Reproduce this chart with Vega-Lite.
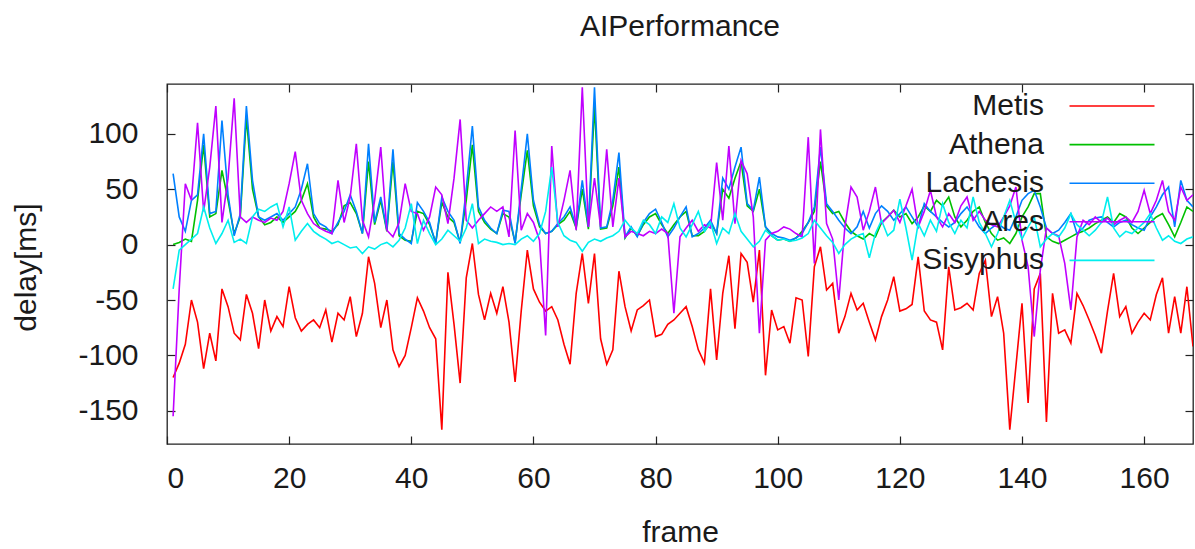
{
"$schema": "https://vega.github.io/schema/vega-lite/v6.json",
"width": 1026,
"height": 360,
"autosize": "none",
"padding": {"left": 167, "top": 84, "right": 2, "bottom": 105},
"background": "white",
"title": {"text": "AIPerformance", "fontSize": 30, "fontWeight": "normal", "font": "Liberation Sans", "color": "#1a1a1a", "baseline": "alphabetic", "offset": 17, "anchor": "middle"},
"config": {
  "view": {"stroke": "#222222", "strokeWidth": 1.3},
  "font": "Liberation Sans",
  "axis": {"grid": false, "domain": false, "tickSize": -8, "tickColor": "#222222", "tickWidth": 1.2, "labelFontSize": 30, "labelColor": "#1a1a1a", "titleFontSize": 30, "titleFontWeight": "normal", "titleColor": "#1a1a1a", "labelFont": "Liberation Sans", "titleFont": "Liberation Sans"}
},
"data": {"values": [
{"f":1,"Metis":-120,"Athena":0,"Lachesis":64,"Ares":-155,"Sisyphus":-40},
{"f":2,"Metis":-107,"Athena":2,"Lachesis":25,"Ares":-40,"Sisyphus":-5},
{"f":3,"Metis":-90,"Athena":5,"Lachesis":12,"Ares":55,"Sisyphus":0},
{"f":4,"Metis":-50,"Athena":3,"Lachesis":40,"Ares":40,"Sisyphus":5},
{"f":5,"Metis":-70,"Athena":40,"Lachesis":45,"Ares":110,"Sisyphus":10},
{"f":6,"Metis":-112,"Athena":90,"Lachesis":100,"Ares":30,"Sisyphus":34},
{"f":7,"Metis":-80,"Athena":25,"Lachesis":28,"Ares":70,"Sisyphus":15},
{"f":8,"Metis":-105,"Athena":28,"Lachesis":30,"Ares":125,"Sisyphus":1},
{"f":9,"Metis":-40,"Athena":67,"Lachesis":112,"Ares":20,"Sisyphus":10},
{"f":10,"Metis":-56,"Athena":40,"Lachesis":45,"Ares":60,"Sisyphus":22},
{"f":11,"Metis":-80,"Athena":10,"Lachesis":8,"Ares":132,"Sisyphus":2},
{"f":12,"Metis":-86,"Athena":25,"Lachesis":28,"Ares":25,"Sisyphus":5},
{"f":13,"Metis":-45,"Athena":115,"Lachesis":125,"Ares":20,"Sisyphus":1},
{"f":14,"Metis":-62,"Athena":50,"Lachesis":58,"Ares":25,"Sisyphus":25},
{"f":15,"Metis":-94,"Athena":25,"Lachesis":25,"Ares":22,"Sisyphus":32},
{"f":16,"Metis":-50,"Athena":18,"Lachesis":22,"Ares":20,"Sisyphus":30},
{"f":17,"Metis":-78,"Athena":20,"Lachesis":25,"Ares":24,"Sisyphus":34},
{"f":18,"Metis":-65,"Athena":25,"Lachesis":28,"Ares":22,"Sisyphus":37},
{"f":19,"Metis":-74,"Athena":20,"Lachesis":22,"Ares":30,"Sisyphus":16},
{"f":20,"Metis":-38,"Athena":25,"Lachesis":28,"Ares":55,"Sisyphus":34},
{"f":21,"Metis":-66,"Athena":30,"Lachesis":34,"Ares":84,"Sisyphus":4},
{"f":22,"Metis":-78,"Athena":40,"Lachesis":50,"Ares":40,"Sisyphus":12},
{"f":23,"Metis":-72,"Athena":55,"Lachesis":73,"Ares":28,"Sisyphus":19},
{"f":24,"Metis":-68,"Athena":25,"Lachesis":28,"Ares":19,"Sisyphus":12},
{"f":25,"Metis":-75,"Athena":15,"Lachesis":19,"Ares":15,"Sisyphus":8},
{"f":26,"Metis":-59,"Athena":14,"Lachesis":16,"Ares":12,"Sisyphus":5},
{"f":27,"Metis":-88,"Athena":12,"Lachesis":10,"Ares":10,"Sisyphus":1},
{"f":28,"Metis":-62,"Athena":18,"Lachesis":20,"Ares":58,"Sisyphus":3},
{"f":29,"Metis":-68,"Athena":35,"Lachesis":30,"Ares":20,"Sisyphus":0},
{"f":30,"Metis":-47,"Athena":38,"Lachesis":45,"Ares":43,"Sisyphus":-3},
{"f":31,"Metis":-83,"Athena":28,"Lachesis":30,"Ares":91,"Sisyphus":-2},
{"f":32,"Metis":-62,"Athena":10,"Lachesis":10,"Ares":22,"Sisyphus":-8},
{"f":33,"Metis":-11,"Athena":75,"Lachesis":91,"Ares":7,"Sisyphus":-2},
{"f":34,"Metis":-35,"Athena":18,"Lachesis":20,"Ares":40,"Sisyphus":-4},
{"f":35,"Metis":-75,"Athena":40,"Lachesis":43,"Ares":88,"Sisyphus":0},
{"f":36,"Metis":-50,"Athena":12,"Lachesis":13,"Ares":13,"Sisyphus":2},
{"f":37,"Metis":-95,"Athena":75,"Lachesis":86,"Ares":7,"Sisyphus":-2},
{"f":38,"Metis":-110,"Athena":8,"Lachesis":10,"Ares":20,"Sisyphus":4},
{"f":39,"Metis":-100,"Athena":4,"Lachesis":5,"Ares":55,"Sisyphus":15},
{"f":40,"Metis":-75,"Athena":3,"Lachesis":1,"Ares":30,"Sisyphus":37},
{"f":41,"Metis":-48,"Athena":30,"Lachesis":38,"Ares":28,"Sisyphus":1},
{"f":42,"Metis":-60,"Athena":28,"Lachesis":30,"Ares":13,"Sisyphus":22},
{"f":43,"Metis":-75,"Athena":18,"Lachesis":20,"Ares":25,"Sisyphus":10},
{"f":44,"Metis":-85,"Athena":2,"Lachesis":1,"Ares":52,"Sisyphus":0},
{"f":45,"Metis":-167,"Athena":38,"Lachesis":43,"Ares":45,"Sisyphus":5},
{"f":46,"Metis":-25,"Athena":25,"Lachesis":30,"Ares":19,"Sisyphus":13},
{"f":47,"Metis":-72,"Athena":20,"Lachesis":22,"Ares":60,"Sisyphus":8},
{"f":48,"Metis":-125,"Athena":2,"Lachesis":1,"Ares":113,"Sisyphus":3},
{"f":49,"Metis":-30,"Athena":40,"Lachesis":50,"Ares":22,"Sisyphus":15},
{"f":50,"Metis":1,"Athena":90,"Lachesis":107,"Ares":15,"Sisyphus":37},
{"f":51,"Metis":-45,"Athena":30,"Lachesis":34,"Ares":22,"Sisyphus":1},
{"f":52,"Metis":-68,"Athena":20,"Lachesis":22,"Ares":28,"Sisyphus":5},
{"f":53,"Metis":-44,"Athena":14,"Lachesis":15,"Ares":34,"Sisyphus":3},
{"f":54,"Metis":-62,"Athena":10,"Lachesis":10,"Ares":30,"Sisyphus":2},
{"f":55,"Metis":-38,"Athena":28,"Lachesis":31,"Ares":34,"Sisyphus":0},
{"f":56,"Metis":-70,"Athena":25,"Lachesis":30,"Ares":7,"Sisyphus":1},
{"f":57,"Metis":-124,"Athena":2,"Lachesis":1,"Ares":103,"Sisyphus":0},
{"f":58,"Metis":-60,"Athena":45,"Lachesis":50,"Ares":13,"Sisyphus":5},
{"f":59,"Metis":-5,"Athena":85,"Lachesis":100,"Ares":28,"Sisyphus":8},
{"f":60,"Metis":-40,"Athena":35,"Lachesis":40,"Ares":20,"Sisyphus":3},
{"f":61,"Metis":-52,"Athena":16,"Lachesis":18,"Ares":4,"Sisyphus":10},
{"f":62,"Metis":-60,"Athena":10,"Lachesis":10,"Ares":-82,"Sisyphus":30},
{"f":63,"Metis":-56,"Athena":12,"Lachesis":12,"Ares":89,"Sisyphus":70},
{"f":64,"Metis":-68,"Athena":18,"Lachesis":19,"Ares":16,"Sisyphus":20},
{"f":65,"Metis":-90,"Athena":22,"Lachesis":25,"Ares":40,"Sisyphus":8},
{"f":66,"Metis":-108,"Athena":30,"Lachesis":34,"Ares":67,"Sisyphus":4},
{"f":67,"Metis":-44,"Athena":15,"Lachesis":16,"Ares":13,"Sisyphus":2},
{"f":68,"Metis":-8,"Athena":50,"Lachesis":58,"Ares":142,"Sisyphus":-6},
{"f":69,"Metis":-53,"Athena":14,"Lachesis":16,"Ares":16,"Sisyphus":2},
{"f":70,"Metis":-8,"Athena":125,"Lachesis":142,"Ares":60,"Sisyphus":5},
{"f":71,"Metis":-85,"Athena":14,"Lachesis":15,"Ares":16,"Sisyphus":3},
{"f":72,"Metis":-108,"Athena":15,"Lachesis":16,"Ares":86,"Sisyphus":6},
{"f":73,"Metis":-95,"Athena":35,"Lachesis":40,"Ares":16,"Sisyphus":8},
{"f":74,"Metis":-24,"Athena":70,"Lachesis":83,"Ares":60,"Sisyphus":12},
{"f":75,"Metis":-56,"Athena":6,"Lachesis":7,"Ares":7,"Sisyphus":22},
{"f":76,"Metis":-78,"Athena":15,"Lachesis":16,"Ares":12,"Sisyphus":15},
{"f":77,"Metis":-59,"Athena":8,"Lachesis":7,"Ares":10,"Sisyphus":10},
{"f":78,"Metis":-55,"Athena":18,"Lachesis":20,"Ares":8,"Sisyphus":22},
{"f":79,"Metis":-50,"Athena":25,"Lachesis":28,"Ares":12,"Sisyphus":18},
{"f":80,"Metis":-83,"Athena":28,"Lachesis":32,"Ares":10,"Sisyphus":10},
{"f":81,"Metis":-81,"Athena":18,"Lachesis":20,"Ares":14,"Sisyphus":25},
{"f":82,"Metis":-72,"Athena":10,"Lachesis":7,"Ares":10,"Sisyphus":20},
{"f":83,"Metis":-68,"Athena":18,"Lachesis":15,"Ares":-62,"Sisyphus":37},
{"f":84,"Metis":-62,"Athena":25,"Lachesis":25,"Ares":7,"Sisyphus":15},
{"f":85,"Metis":-56,"Athena":30,"Lachesis":34,"Ares":15,"Sisyphus":7},
{"f":86,"Metis":-74,"Athena":8,"Lachesis":7,"Ares":22,"Sisyphus":18},
{"f":87,"Metis":-95,"Athena":8,"Lachesis":10,"Ares":12,"Sisyphus":30},
{"f":88,"Metis":-107,"Athena":12,"Lachesis":15,"Ares":18,"Sisyphus":12},
{"f":89,"Metis":-40,"Athena":20,"Lachesis":22,"Ares":15,"Sisyphus":20},
{"f":90,"Metis":-104,"Athena":10,"Lachesis":10,"Ares":74,"Sisyphus":1},
{"f":91,"Metis":-44,"Athena":50,"Lachesis":60,"Ares":22,"Sisyphus":15},
{"f":92,"Metis":-10,"Athena":42,"Lachesis":50,"Ares":89,"Sisyphus":10},
{"f":93,"Metis":-76,"Athena":60,"Lachesis":70,"Ares":19,"Sisyphus":28},
{"f":94,"Metis":-8,"Athena":75,"Lachesis":88,"Ares":76,"Sisyphus":12},
{"f":95,"Metis":-16,"Athena":35,"Lachesis":37,"Ares":64,"Sisyphus":5},
{"f":96,"Metis":-52,"Athena":30,"Lachesis":31,"Ares":25,"Sisyphus":-2},
{"f":97,"Metis":-5,"Athena":50,"Lachesis":61,"Ares":-80,"Sisyphus":3},
{"f":98,"Metis":-118,"Athena":16,"Lachesis":16,"Ares":4,"Sisyphus":13},
{"f":99,"Metis":-59,"Athena":8,"Lachesis":10,"Ares":10,"Sisyphus":8},
{"f":100,"Metis":-77,"Athena":4,"Lachesis":7,"Ares":12,"Sisyphus":4},
{"f":101,"Metis":-74,"Athena":5,"Lachesis":6,"Ares":16,"Sisyphus":5},
{"f":102,"Metis":-89,"Athena":3,"Lachesis":4,"Ares":14,"Sisyphus":3},
{"f":103,"Metis":-48,"Athena":6,"Lachesis":6,"Ares":10,"Sisyphus":4},
{"f":104,"Metis":-50,"Athena":12,"Lachesis":10,"Ares":7,"Sisyphus":6},
{"f":105,"Metis":-101,"Athena":20,"Lachesis":20,"Ares":97,"Sisyphus":10},
{"f":106,"Metis":-20,"Athena":30,"Lachesis":34,"Ares":-17,"Sisyphus":22},
{"f":107,"Metis":-2,"Athena":75,"Lachesis":88,"Ares":104,"Sisyphus":15},
{"f":108,"Metis":-41,"Athena":35,"Lachesis":37,"Ares":19,"Sisyphus":8},
{"f":109,"Metis":-35,"Athena":28,"Lachesis":30,"Ares":5,"Sisyphus":2},
{"f":110,"Metis":-80,"Athena":30,"Lachesis":22,"Ares":-50,"Sisyphus":-8},
{"f":111,"Metis":-65,"Athena":20,"Lachesis":15,"Ares":16,"Sisyphus":0},
{"f":112,"Metis":-44,"Athena":12,"Lachesis":10,"Ares":52,"Sisyphus":5},
{"f":113,"Metis":-59,"Athena":8,"Lachesis":16,"Ares":43,"Sisyphus":8},
{"f":114,"Metis":-53,"Athena":5,"Lachesis":30,"Ares":13,"Sisyphus":10},
{"f":115,"Metis":-70,"Athena":10,"Lachesis":15,"Ares":30,"Sisyphus":-12},
{"f":116,"Metis":-86,"Athena":7,"Lachesis":28,"Ares":52,"Sisyphus":10},
{"f":117,"Metis":-65,"Athena":20,"Lachesis":35,"Ares":19,"Sisyphus":22},
{"f":118,"Metis":-50,"Athena":25,"Lachesis":30,"Ares":25,"Sisyphus":8},
{"f":119,"Metis":-29,"Athena":31,"Lachesis":22,"Ares":31,"Sisyphus":13},
{"f":120,"Metis":-60,"Athena":25,"Lachesis":28,"Ares":20,"Sisyphus":41},
{"f":121,"Metis":-58,"Athena":28,"Lachesis":34,"Ares":35,"Sisyphus":15},
{"f":122,"Metis":-54,"Athena":19,"Lachesis":25,"Ares":50,"Sisyphus":-14},
{"f":123,"Metis":-11,"Athena":25,"Lachesis":16,"Ares":16,"Sisyphus":19},
{"f":124,"Metis":-60,"Athena":35,"Lachesis":37,"Ares":30,"Sisyphus":8},
{"f":125,"Metis":-68,"Athena":30,"Lachesis":30,"Ares":49,"Sisyphus":22},
{"f":126,"Metis":-70,"Athena":40,"Lachesis":25,"Ares":25,"Sisyphus":12},
{"f":127,"Metis":-95,"Athena":35,"Lachesis":20,"Ares":16,"Sisyphus":37},
{"f":128,"Metis":-20,"Athena":43,"Lachesis":16,"Ares":28,"Sisyphus":20},
{"f":129,"Metis":-59,"Athena":25,"Lachesis":20,"Ares":20,"Sisyphus":10},
{"f":130,"Metis":-57,"Athena":16,"Lachesis":28,"Ares":35,"Sisyphus":22},
{"f":131,"Metis":-53,"Athena":22,"Lachesis":34,"Ares":43,"Sisyphus":15},
{"f":132,"Metis":-59,"Athena":30,"Lachesis":25,"Ares":22,"Sisyphus":43},
{"f":133,"Metis":-26,"Athena":34,"Lachesis":16,"Ares":30,"Sisyphus":20},
{"f":134,"Metis":-14,"Athena":20,"Lachesis":10,"Ares":22,"Sisyphus":10},
{"f":135,"Metis":-65,"Athena":10,"Lachesis":15,"Ares":18,"Sisyphus":-2},
{"f":136,"Metis":-47,"Athena":4,"Lachesis":19,"Ares":16,"Sisyphus":10},
{"f":137,"Metis":-80,"Athena":6,"Lachesis":15,"Ares":25,"Sisyphus":25},
{"f":138,"Metis":-167,"Athena":1,"Lachesis":13,"Ares":35,"Sisyphus":40},
{"f":139,"Metis":-110,"Athena":10,"Lachesis":25,"Ares":52,"Sisyphus":20},
{"f":140,"Metis":-53,"Athena":25,"Lachesis":40,"Ares":4,"Sisyphus":5},
{"f":141,"Metis":-143,"Athena":34,"Lachesis":46,"Ares":-20,"Sisyphus":16},
{"f":142,"Metis":-40,"Athena":46,"Lachesis":49,"Ares":-83,"Sisyphus":25},
{"f":143,"Metis":-26,"Athena":46,"Lachesis":34,"Ares":-23,"Sisyphus":-2},
{"f":144,"Metis":-160,"Athena":7,"Lachesis":15,"Ares":15,"Sisyphus":5},
{"f":145,"Metis":-44,"Athena":3,"Lachesis":10,"Ares":10,"Sisyphus":10},
{"f":146,"Metis":-80,"Athena":1,"Lachesis":13,"Ares":8,"Sisyphus":7},
{"f":147,"Metis":-77,"Athena":4,"Lachesis":20,"Ares":-17,"Sisyphus":15},
{"f":148,"Metis":-89,"Athena":7,"Lachesis":28,"Ares":-59,"Sisyphus":28},
{"f":149,"Metis":-44,"Athena":10,"Lachesis":10,"Ares":7,"Sisyphus":18},
{"f":150,"Metis":-55,"Athena":12,"Lachesis":15,"Ares":22,"Sisyphus":13},
{"f":151,"Metis":-68,"Athena":15,"Lachesis":22,"Ares":18,"Sisyphus":8},
{"f":152,"Metis":-82,"Athena":19,"Lachesis":24,"Ares":25,"Sisyphus":13},
{"f":153,"Metis":-98,"Athena":22,"Lachesis":25,"Ares":20,"Sisyphus":20},
{"f":154,"Metis":-60,"Athena":25,"Lachesis":20,"Ares":24,"Sisyphus":43},
{"f":155,"Metis":-26,"Athena":20,"Lachesis":16,"Ares":18,"Sisyphus":15},
{"f":156,"Metis":-65,"Athena":28,"Lachesis":20,"Ares":22,"Sisyphus":7},
{"f":157,"Metis":-56,"Athena":25,"Lachesis":22,"Ares":25,"Sisyphus":12},
{"f":158,"Metis":-80,"Athena":15,"Lachesis":18,"Ares":20,"Sisyphus":10},
{"f":159,"Metis":-70,"Athena":10,"Lachesis":15,"Ares":30,"Sisyphus":15},
{"f":160,"Metis":-62,"Athena":15,"Lachesis":13,"Ares":49,"Sisyphus":20},
{"f":161,"Metis":-68,"Athena":20,"Lachesis":25,"Ares":28,"Sisyphus":28},
{"f":162,"Metis":-45,"Athena":25,"Lachesis":34,"Ares":40,"Sisyphus":15},
{"f":163,"Metis":-30,"Athena":28,"Lachesis":45,"Ares":58,"Sisyphus":4},
{"f":164,"Metis":-80,"Athena":18,"Lachesis":52,"Ares":30,"Sisyphus":8},
{"f":165,"Metis":-47,"Athena":7,"Lachesis":16,"Ares":22,"Sisyphus":3},
{"f":166,"Metis":-80,"Athena":20,"Lachesis":58,"Ares":52,"Sisyphus":1},
{"f":167,"Metis":-38,"Athena":34,"Lachesis":40,"Ares":40,"Sisyphus":5},
{"f":168,"Metis":-92,"Athena":30,"Lachesis":34,"Ares":45,"Sisyphus":7}
]},
"layer": [
  {
    "transform": [{"fold": ["Metis", "Athena", "Lachesis", "Ares", "Sisyphus"], "as": ["series", "delay"]}],
    "mark": {"type": "line", "strokeWidth": 1.6, "clip": true, "interpolate": "linear"},
    "encoding": {
      "x": {"field": "f", "type": "quantitative", "scale": {"domain": [0, 168], "nice": false, "zero": false},
        "axis": {"orient": "bottom", "values": [0, 20, 40, 60, 80, 100, 120, 140, 160], "labelPadding": 27, "title": "frame", "titleBaseline": "alphabetic", "titleY": 97}},
      "y": {"field": "delay", "type": "quantitative", "scale": {"domain": [-180, 145], "nice": false, "zero": false},
        "axis": {"orient": "left", "values": [-150, -100, -50, 0, 50, 100], "labelPadding": 37, "labelExpr": "replace(datum.label, '\u2212', '-')", "title": "delay[ms]", "titleBaseline": "alphabetic", "titleX": -132, "titleY": 183, "titleAngle": -90}},
      "color": {"field": "series", "type": "nominal",
        "scale": {"domain": ["Metis", "Athena", "Lachesis", "Ares", "Sisyphus"], "range": ["#ff0000", "#00c000", "#0080ff", "#c000ff", "#00eeee"]},
        "legend": {"orient": "none", "legendX": 930, "legendY": 7, "title": null, "symbolType": "M-5,0H5", "symbolSize": 289, "symbolStrokeWidth": 1.6, "labelFontSize": 30, "labelColor": "#1a1a1a", "labelAlign": "right", "labelOffset": -83, "rowPadding": 8.6, "padding": 0, "labelLimit": 0}},
      "detail": {"field": "series"}
    }
  },
  {
    "mark": {"type": "point", "opacity": 0},
    "encoding": {
      "x": {"field": "f", "type": "quantitative", "axis": {"orient": "top", "values": [0, 20, 40, 60, 80, 100, 120, 140, 160], "labels": false, "title": null}},
      "y": {"field": "Metis", "type": "quantitative", "axis": {"orient": "right", "values": [-150, -100, -50, 0, 50, 100], "labels": false, "title": null}}
    }
  }
]
}
